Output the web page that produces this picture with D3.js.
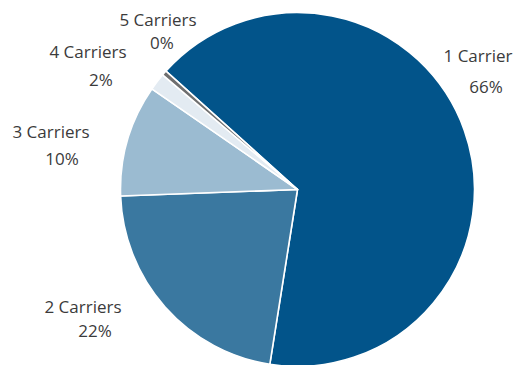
<!DOCTYPE html>
<html>
<head>
<meta charset="utf-8">
<script src="https://cdn.jsdelivr.net/npm/d3@7"></script>
<style>
  html, body { margin: 0; padding: 0; background: #fff; }
  svg { display: block; }
  text { font-family: "Open Sans", "Noto Sans", sans-serif; font-size: 17px; fill: #3b3b3b; }
</style>
</head>
<body>
<svg id="chart" width="515" height="365"></svg>
<script>
// Share of accounts by number of carriers
const categories = ["1 Carrier", "2 Carriers", "3 Carriers", "4 Carriers", "5 Carriers"];
const shares = [65.8, 21.9, 10.2, 1.6, 0.45];
const percentLabels = shares.map(v => Math.round(v) + "%");
const colors = ["#02548a", "#3a78a0", "#9bbbd1", "#e3ebf2", "#6f6f6f"];

// Label anchor (centre of each text line) for each slice: [name x, name y, pct x, pct y]
const labelAnchors = [
  [478, 62, 486, 93],
  [83, 313, 95, 337],
  [51, 138, 62, 165],
  [88, 58, 101, 86],
  [158, 26, 162, 49]
];

const svg = d3.select("#chart");
const cx = 297.5, cy = 189.5, radius = 177;

const pie = d3.pie()
  .sort(null)
  .value(d => d)
  .startAngle(-48 * Math.PI / 180)
  .endAngle((360 - 48) * Math.PI / 180);

const arc = d3.arc().innerRadius(0).outerRadius(radius);

const g = svg.append("g").attr("transform", `translate(${cx},${cy})`);

g.selectAll("path")
  .data(pie(shares))
  .join("path")
  .attr("d", arc)
  .attr("fill", (d, i) => colors[i])
  .attr("stroke", "#fff")
  .attr("stroke-width", 1.6)
  .attr("stroke-linejoin", "round");

const labels = svg.append("g");
categories.forEach((name, i) => {
  const [nx, ny, px, py] = labelAnchors[i];
  labels.append("text")
    .attr("x", nx).attr("y", ny)
    .attr("text-anchor", "middle")
    .text(name);
  labels.append("text")
    .attr("x", px).attr("y", py)
    .attr("text-anchor", "middle")
    .text(percentLabels[i]);
});
</script>
</body>
</html>
